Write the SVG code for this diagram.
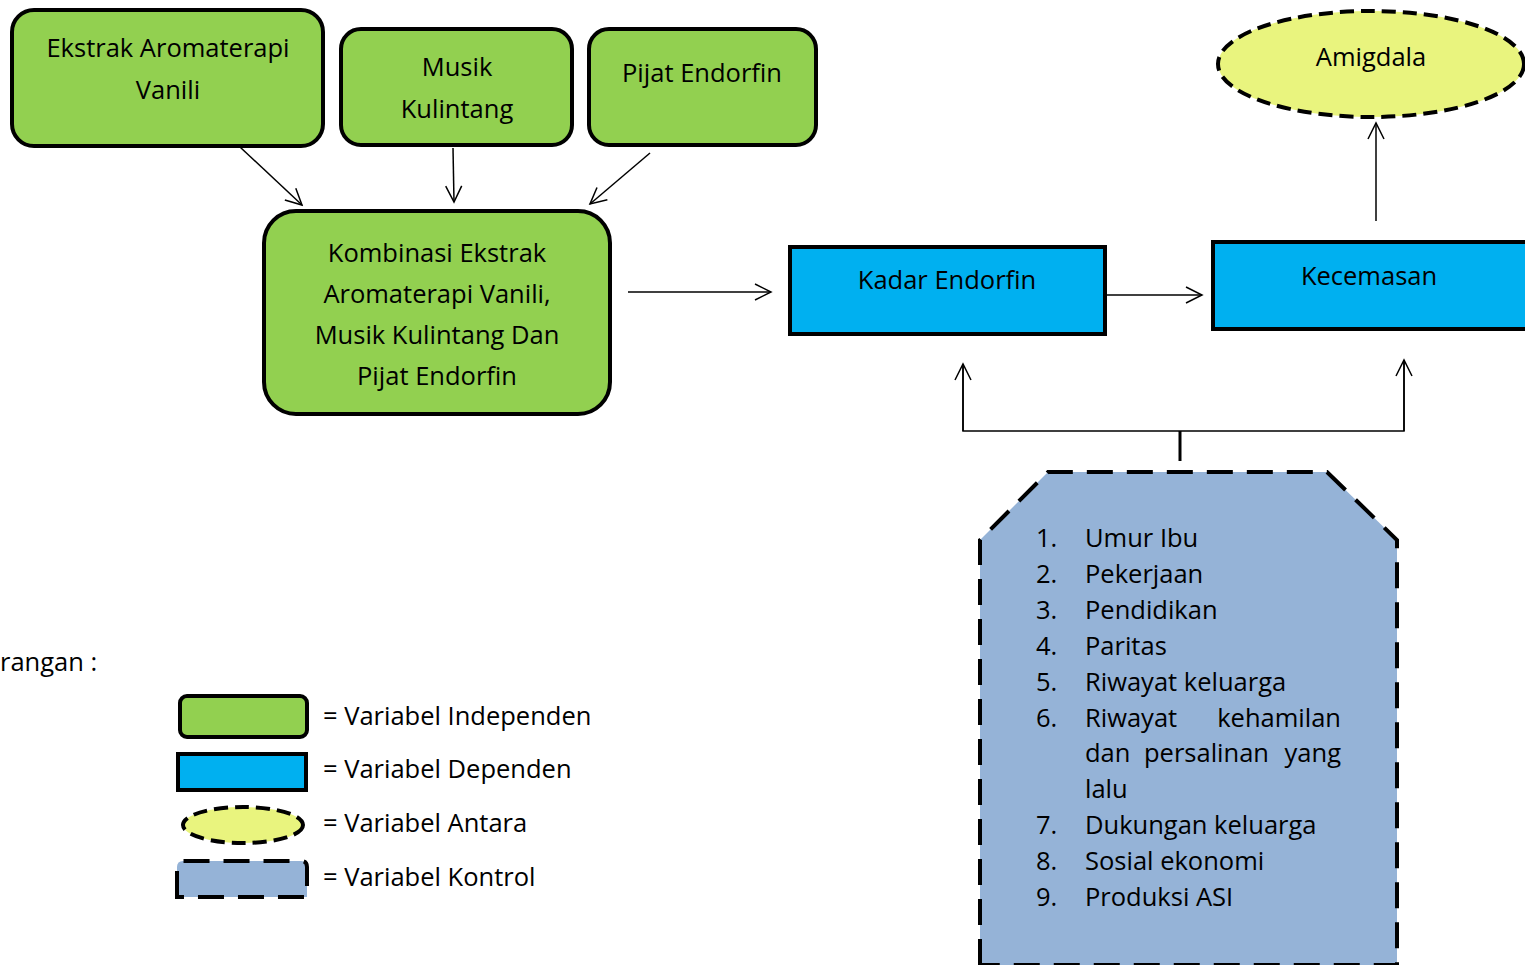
<svg xmlns="http://www.w3.org/2000/svg" width="1525" height="965" viewBox="0 0 1525 965">
<defs>
<style>
text{font-family:"Open Sans","Liberation Sans",sans-serif;font-size:25.5px;fill:#000}
.c{text-anchor:middle}
.g{fill:#92D050;stroke:#000;stroke-width:4}
.b{fill:#00B0F0;stroke:#000;stroke-width:4}
.y{fill:#E9F47E;stroke:#000;stroke-width:4;stroke-dasharray:14 7}
.k{fill:#95B3D7;stroke:#000;stroke-width:4;stroke-dasharray:26 14}
.ln{stroke:#000;stroke-width:1.5;fill:none}
</style>
<marker id="ah" viewBox="0 0 20 20" refX="18" refY="10" markerWidth="20" markerHeight="20" markerUnits="userSpaceOnUse" orient="auto">
<path d="M2,2 L18,10 L2,18" fill="none" stroke="#000" stroke-width="1.5"/>
</marker>
</defs>
<rect width="1525" height="965" fill="#fff"/>
<g id="n1"><rect class="g" x="12" y="10" width="311" height="136" rx="22"/><text class="c" x="168" y="57">Ekstrak Aromaterapi</text><text class="c" x="168" y="99">Vanili</text></g>
<g id="n2"><rect class="g" x="341" y="29" width="231" height="116" rx="20"/><text class="c" x="457" y="76">Musik</text><text class="c" x="457" y="118">Kulintang</text></g>
<g id="n3"><rect class="g" x="589" y="29" width="227" height="116" rx="20"/><text class="c" x="702" y="82">Pijat Endorfin</text></g>
<g id="n4"><rect class="g" x="264" y="211" width="346" height="203" rx="32"/><text class="c" x="437" y="262">Kombinasi Ekstrak</text><text class="c" x="437" y="303">Aromaterapi Vanili,</text><text class="c" x="437" y="344">Musik Kulintang Dan</text><text class="c" x="437" y="385">Pijat Endorfin</text></g>
<g id="n5"><rect class="b" x="790" y="247" width="315" height="87"/><text class="c" x="947" y="289">Kadar Endorfin</text></g>
<g id="n6"><rect class="b" x="1213" y="242" width="316" height="87"/><text class="c" x="1369" y="285">Kecemasan</text></g>
<g id="n7"><ellipse class="y" cx="1371" cy="64" rx="153" ry="53"/><text class="c" x="1371" y="66">Amigdala</text></g>
<g id="n8"><path class="k" d="M980,965 L980,540 L1048,472 L1327,472 L1397,540 L1397,965 Z"/>
<text x="1036" y="547">1.</text><text x="1085" y="547">Umur Ibu</text>
<text x="1036" y="583">2.</text><text x="1085" y="583">Pekerjaan</text>
<text x="1036" y="619">3.</text><text x="1085" y="619">Pendidikan</text>
<text x="1036" y="655">4.</text><text x="1085" y="655">Paritas</text>
<text x="1036" y="691">5.</text><text x="1085" y="691">Riwayat keluarga</text>
<text x="1036" y="727">6.</text><text x="1085" y="727">Riwayat</text><text x="1341" y="727" text-anchor="end">kehamilan</text>
<text x="1085" y="762">dan</text><text x="1144" y="762">persalinan</text><text x="1341" y="762" text-anchor="end">yang</text>
<text x="1085" y="798">lalu</text>
<text x="1036" y="834">7.</text><text x="1085" y="834">Dukungan keluarga</text>
<text x="1036" y="870">8.</text><text x="1085" y="870">Sosial ekonomi</text>
<text x="1036" y="906">9.</text><text x="1085" y="906">Produksi ASI</text>
</g>
<g id="connectors">
<line class="ln" x1="240" y1="147" x2="302" y2="205" marker-end="url(#ah)"/>
<line class="ln" x1="453" y1="148" x2="454" y2="202" marker-end="url(#ah)"/>
<line class="ln" x1="650" y1="153" x2="590" y2="204" marker-end="url(#ah)"/>
<line class="ln" x1="628" y1="292" x2="771" y2="292" marker-end="url(#ah)"/>
<line class="ln" x1="1107" y1="295" x2="1202" y2="295" marker-end="url(#ah)"/>
<line class="ln" x1="1376" y1="221" x2="1376" y2="123" marker-end="url(#ah)"/>
<polyline class="ln" points="963,364 963,431 1404,431 1404,360"/>
<line class="ln" x1="963" y1="431" x2="963" y2="364" marker-end="url(#ah)"/>
<line class="ln" x1="1404" y1="431" x2="1404" y2="360" marker-end="url(#ah)"/>
<line stroke="#000" stroke-width="3" x1="1180" y1="431" x2="1180" y2="461"/>
</g>
<g id="legend">
<text x="0" y="671">rangan :</text>
<rect class="g" x="180" y="696" width="127" height="41" rx="7"/>
<rect class="b" x="178" y="754" width="128" height="36"/>
<ellipse class="y" cx="243" cy="825" rx="60" ry="18"/>
<path class="k" d="M177,897 L177,867 Q177,861 183,861 L301,861 Q307,861 307,867 L307,897 Z"/>
<text x="323" y="725">= Variabel Independen</text>
<text x="323" y="778">= Variabel Dependen</text>
<text x="323" y="832">= Variabel Antara</text>
<text x="323" y="886">= Variabel Kontrol</text>
</g>
</svg>
